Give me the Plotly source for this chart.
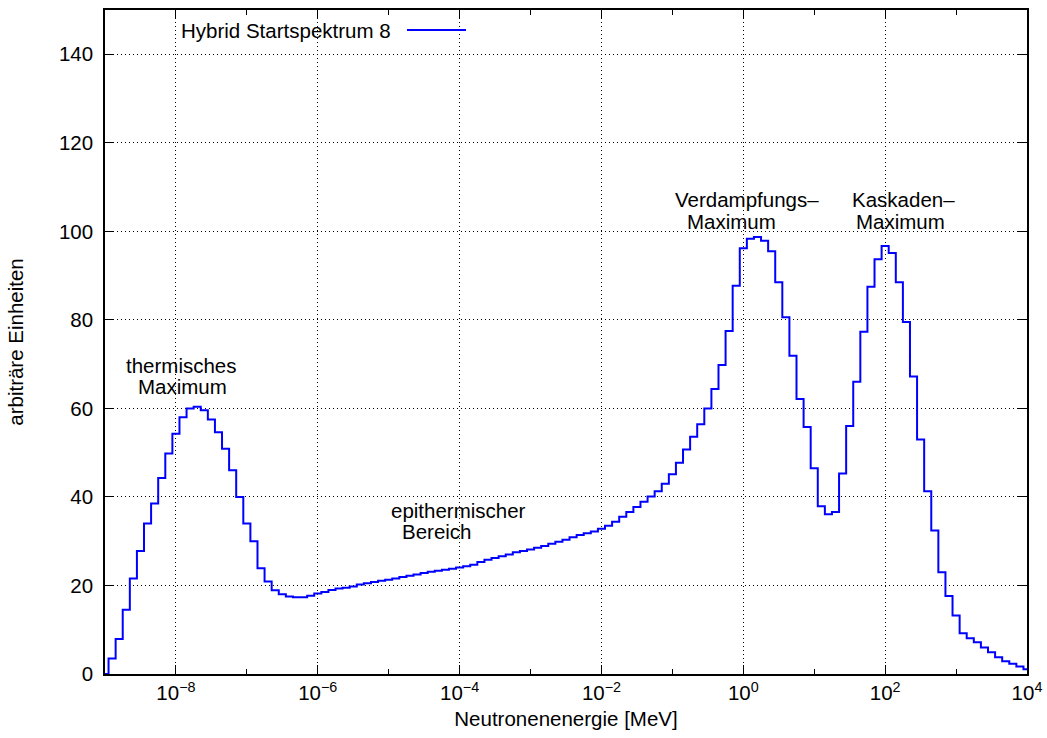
import plotly.graph_objects as go

# Bin centres of the spectrum, log10(E / MeV), ten bins per decade
LOG10_E = [
    -9.0, -8.9, -8.8, -8.7, -8.6, -8.5, -8.4, -8.3, -8.2, -8.1,
    -8.0, -7.9, -7.8, -7.7, -7.6, -7.5, -7.4, -7.3, -7.2, -7.1,
    -7.0, -6.9, -6.8, -6.7, -6.6, -6.5, -6.4, -6.3, -6.2, -6.1,
    -6.0, -5.9, -5.8, -5.7, -5.6, -5.5, -5.4, -5.3, -5.2, -5.1,
    -5.0, -4.9, -4.8, -4.7, -4.6, -4.5, -4.4, -4.3, -4.2, -4.1,
    -4.0, -3.9, -3.8, -3.7, -3.6, -3.5, -3.4, -3.3, -3.2, -3.1,
    -3.0, -2.9, -2.8, -2.7, -2.6, -2.5, -2.4, -2.3, -2.2, -2.1,
    -2.0, -1.9, -1.8, -1.7, -1.6, -1.5, -1.4, -1.3, -1.2, -1.1,
    -1.0, -0.9, -0.8, -0.7, -0.6, -0.5, -0.4, -0.3, -0.2, -0.1,
    0.0, 0.1, 0.2, 0.3, 0.4, 0.5, 0.6, 0.7, 0.8, 0.9,
    1.0, 1.1, 1.2, 1.3, 1.4, 1.5, 1.6, 1.7, 1.8, 1.9,
    2.0, 2.1, 2.2, 2.3, 2.4, 2.5, 2.6, 2.7, 2.8, 2.9,
    3.0, 3.1, 3.2, 3.3, 3.4, 3.5, 3.6, 3.7, 3.8, 3.9,
    4.0,
]

# Spectrum intensity (arbitrary units), one value per bin
INTENSITY = [
    0.0, 3.5, 7.9, 14.5, 21.6, 27.8, 34.0, 38.5, 44.3, 49.8,
    54.3, 58.0, 60.0, 60.4, 59.6, 57.5, 54.6, 50.9, 46.0, 40.0,
    34.0, 30.0, 23.9, 20.9, 18.9, 18.0, 17.5, 17.35, 17.35, 17.65,
    18.2, 18.55, 19.0, 19.3, 19.5, 19.75, 20.2, 20.5, 20.8, 21.05,
    21.3, 21.6, 21.9, 22.2, 22.5, 22.8, 23.1, 23.3, 23.55, 23.8,
    24.05, 24.35, 24.7, 25.3, 25.8, 26.2, 26.6, 27.0, 27.5, 27.8,
    28.1, 28.5, 28.9, 29.4, 29.9, 30.3, 30.9, 31.4, 31.8, 32.2,
    32.8, 33.5, 34.4, 35.5, 36.6, 37.7, 38.9, 40.1, 41.3, 43.0,
    45.1, 47.7, 50.7, 53.6, 56.4, 60.0, 64.4, 69.8, 77.5, 87.7,
    96.2, 98.3, 98.7, 97.9, 95.5, 88.5, 80.6, 71.9, 62.1, 55.8,
    46.5, 37.9, 36.1, 36.6, 45.3, 56.0, 66.0, 77.3, 87.5, 93.7,
    96.7, 95.1, 88.5, 79.5, 67.2, 53.0, 41.3, 32.4, 23.0, 17.6,
    13.2, 9.2, 8.1, 7.2, 6.0, 4.9, 3.8, 2.9, 2.3, 1.7,
    1.1,
]

# Labelled decades on the energy axis and the unlabelled ones in between
X_MAJOR_EXP = [-8, -6, -4, -2, 0, 2, 4]
X_MINOR_EXP = [-9, -7, -5, -3, -1, 1, 3]

SERIES_NAME = "Hybrid Startspektrum 8"
X_TITLE = "Neutronenenergie [MeV]"
Y_TITLE = "arbiträre Einheiten"

# Region labels: (text, log10 E of centre, y of centre)
LABELS = [
    ("thermisches", -7.92, 69.8),
    ("Maximum", -7.905, 65.0),
    ("epithermischer", -4.013, 37.0),
    ("Bereich", -4.316, 32.1),
    ("Verdampfungs–", 0.052, 107.1),
    ("Maximum", -0.16, 102.2),
    ("Kaskaden–", 2.252, 107.1),
    ("Maximum", 2.21, 102.2),
]

FONT = "Liberation Sans, Arial, Helvetica, sans-serif"
FS = 20.5
LINE_BLUE = "#0000ff"
DOTS = "1px,3px"

energies = [10 ** v for v in LOG10_E]

fig = go.Figure()
fig.add_trace(go.Scatter(
    x=energies, y=INTENSITY, mode="lines", name=SERIES_NAME,
    line=dict(color=LINE_BLUE, width=2, shape="hvh"),
    showlegend=False, hoverinfo="skip",
))

axis_common = dict(
    showline=True, linecolor="black", linewidth=1.6, mirror="ticks",
    ticks="inside", tickcolor="black", tickwidth=1.2, ticklen=9,
    showgrid=True, gridcolor="black", gridwidth=1, griddash=DOTS,
    zeroline=False, automargin=False,
    tickfont=dict(family=FONT, size=FS, color="black"),
)

fig.update_xaxes(
    type="log", range=[-9, 4],
    tickmode="array",
    tickvals=[10 ** e for e in X_MAJOR_EXP],
    ticktext=[f"10<sup>{'−' if e < 0 else ''}{abs(e)}</sup>" for e in X_MAJOR_EXP],
    minor=dict(tickmode="array", tickvals=[10 ** e for e in X_MINOR_EXP],
               ticks="inside", ticklen=5, tickcolor="black",
               tickwidth=1.2, showgrid=False),
    title=dict(text=X_TITLE, font=dict(family=FONT, size=FS, color="black"),
               standoff=8),
    **axis_common,
)
fig.update_yaxes(
    range=[0, 150], dtick=20, tick0=0,
    ticklabelstandoff=6,
    title=dict(text=Y_TITLE, font=dict(family=FONT, size=FS, color="black"),
               standoff=30),
    **axis_common,
)

for text, lx, ly in LABELS:
    fig.add_annotation(
        x=lx, y=ly, xref="x", yref="y", text=text, showarrow=False,
        xanchor="center", yanchor="middle",
        font=dict(family=FONT, size=FS, color="black"),
    )

# Key: label followed by a line sample, top left inside the frame
fig.add_annotation(
    x=(393 - 105) / 922, y=(674 - 30) / 664, xref="paper", yref="paper",
    text=SERIES_NAME, showarrow=False, xanchor="right", yanchor="middle",
    font=dict(family=FONT, size=FS, color="black"),
)
fig.add_shape(
    type="line", xref="paper", yref="paper",
    x0=(407 - 105) / 922, x1=(466 - 105) / 922,
    y0=(674 - 30) / 664, y1=(674 - 30) / 664,
    line=dict(color=LINE_BLUE, width=2),
)

fig.update_layout(
    width=1047, height=738,
    margin=dict(l=105, r=20, t=10, b=64),
    paper_bgcolor="white", plot_bgcolor="white",
    font=dict(family=FONT, size=FS, color="black"),
)

fig.write_html("out.html")
